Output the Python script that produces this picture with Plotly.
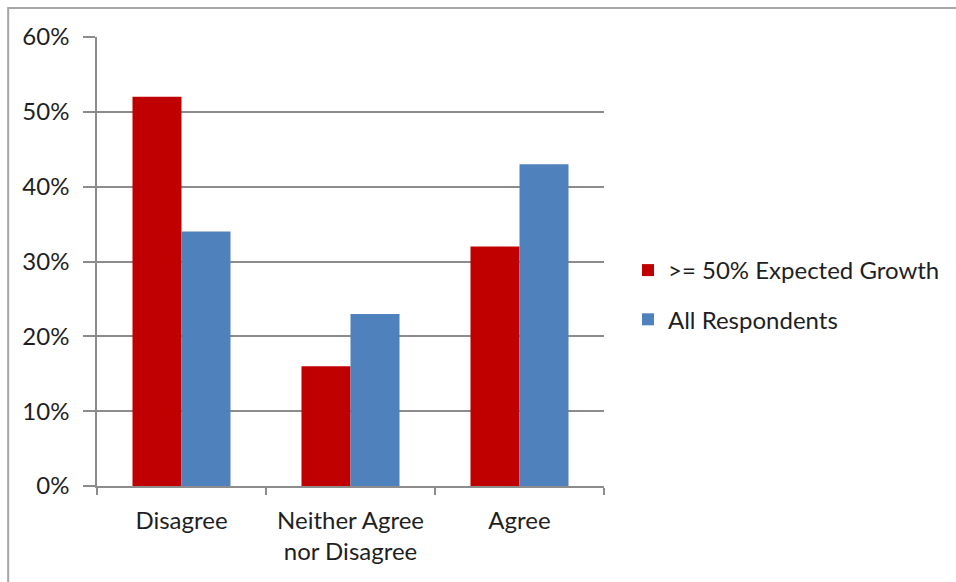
import plotly.graph_objects as go

# Survey responses, share of respondents per answer
categories = ["Disagree", "Neither Agree<br>nor Disagree", "Agree"]
high_growth = [0.52, 0.16, 0.32]
all_respondents = [0.34, 0.23, 0.43]
series_names = [">= 50% Expected Growth", "All Respondents"]
y_ticks = [0, 0.1, 0.2, 0.3, 0.4, 0.5, 0.6]

W, H = 956, 582
L, R, T, B = 97, 351, 37, 96
plot_w = W - L - R
plot_h = H - T - B

FONT = "Lato, Carlito, Calibri, sans-serif"
TEXT = "#1f1f1f"
GRID = "#8c8c8c"
FS = 24

fig = go.Figure()
fig.add_trace(go.Bar(x=categories, y=high_growth, name=series_names[0],
                     marker=dict(color="#C00000", line=dict(width=0)),
                     legendgroup="a"))
fig.add_trace(go.Bar(x=categories, y=all_respondents, name=series_names[1],
                     marker=dict(color="#4F81BD", line=dict(width=0)),
                     legendgroup="b"))


def px_x(p):
    return (p - L) / plot_w


def px_y(p):
    return (H - B - p) / plot_h


# outer chart frame
fig.add_shape(type="rect", xref="paper", yref="paper",
              x0=px_x(8), x1=px_x(W + 10), y0=px_y(H + 10), y1=px_y(8),
              line=dict(color="#a6a6a6", width=2), fillcolor="rgba(0,0,0,0)",
              layer="below")

fig.update_layout(
    width=W, height=H,
    margin=dict(l=L, r=R, t=T, b=B, pad=0),
    paper_bgcolor="white", plot_bgcolor="white",
    barmode="group", bargap=0.42, bargroupgap=0,
    font=dict(family=FONT, size=FS, color=TEXT),
    showlegend=True,
    legend=dict(x=px_x(628), y=px_y(248), xanchor="left", yanchor="top",
                font=dict(family=FONT, size=FS, color=TEXT),
                tracegroupgap=15, bgcolor="rgba(0,0,0,0)",
                itemclick=False),
    xaxis=dict(showline=True, linecolor=GRID, linewidth=1.5,
               ticks="outside", tickson="boundaries", ticklen=7,
               tickcolor=GRID, tickwidth=1.5, showgrid=False,
               ticklabelstandoff=12,
               tickfont=dict(family=FONT, size=FS, color=TEXT)),
    yaxis=dict(range=[0, 0.6], tickvals=y_ticks, tickformat=".0%",
               showline=True, linecolor=GRID, linewidth=1.5,
               ticks="outside", ticklen=12, tickcolor=GRID, tickwidth=1.5,
               showgrid=True, gridcolor=GRID, gridwidth=1.5,
               zeroline=False, ticklabelstandoff=9,
               tickfont=dict(family=FONT, size=FS, color=TEXT)),
)

fig.write_html("out.html")
